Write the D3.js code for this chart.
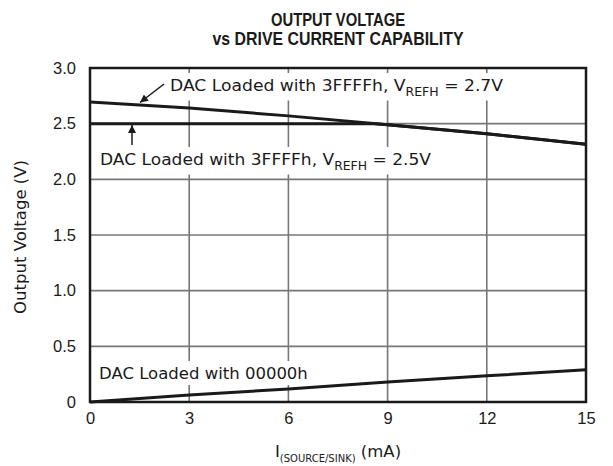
<!DOCTYPE html>
<html>
<head>
<meta charset="utf-8">
<script src="https://cdn.jsdelivr.net/npm/d3@7"></script>
<style>
  html, body { margin: 0; padding: 0; background: #fff; }
  svg { display: block; font-family: "DejaVu Sans", "Liberation Sans", Arial, sans-serif; }
</style>
</head>
<body>
<svg id="chart" width="613" height="466"></svg>
<script>
// Drive current (mA) and output voltage (V) for the three DAC codes
const currentMA = [0, 3, 6, 9, 12, 15];
const voutRef27 = [2.695, 2.64, 2.57, 2.49, 2.41, 2.315];
const currentRef25 = [0, 3, 6, 8.6, 9, 12, 15];
const voutRef25 = [2.5, 2.5, 2.5, 2.5, 2.49, 2.41, 2.315];
const voutZero = [0, 0.063, 0.117, 0.18, 0.235, 0.29];

const xTicks = [0, 3, 6, 9, 12, 15];
const yTicks = [0, 0.5, 1.0, 1.5, 2.0, 2.5, 3.0];
const yTickLabels = ["0", "0.5", "1.0", "1.5", "2.0", "2.5", "3.0"];

const titleLines = ["OUTPUT VOLTAGE", "vs DRIVE CURRENT CAPABILITY"];

const svg = d3.select("#chart");
const plotL = 90, plotR = 586, plotT = 68, plotB = 402;

const x = d3.scaleLinear().domain([0, 15]).range([plotL, plotR]);
const y = d3.scaleLinear().domain([0, 3]).range([plotB, plotT]);

const ink = "#1a1a1a";
const gridColor = "#777";
const fs = 16.5;

// Title (condensed bold)
svg.append("text").attr("x", (plotL + plotR) / 2).attr("y", 26)
  .attr("text-anchor", "middle").attr("font-weight", "bold").attr("font-size", 17.5)
  .attr("font-family", "Liberation Sans, Arial, sans-serif")
  .attr("fill", ink).attr("textLength", 134).attr("lengthAdjust", "spacingAndGlyphs")
  .text(titleLines[0]);
svg.append("text").attr("x", (plotL + plotR) / 2).attr("y", 44.5)
  .attr("text-anchor", "middle").attr("font-weight", "bold").attr("font-size", 17.5)
  .attr("font-family", "Liberation Sans, Arial, sans-serif")
  .attr("fill", ink).attr("textLength", 251).attr("lengthAdjust", "spacingAndGlyphs")
  .text(titleLines[1]);

// Grid
const grid = svg.append("g");
grid.selectAll("line.v").data(xTicks.slice(1, -1)).join("line")
  .attr("x1", d => x(d)).attr("x2", d => x(d)).attr("y1", plotT).attr("y2", plotB)
  .attr("stroke", gridColor).attr("stroke-width", 1.6);
grid.selectAll("line.h").data(yTicks.slice(1, -1)).join("line")
  .attr("x1", plotL).attr("x2", plotR).attr("y1", d => y(d)).attr("y2", d => y(d))
  .attr("stroke", gridColor).attr("stroke-width", 1.6);

// Annotation labels, each on a white backing that breaks the grid
const bgLayer = svg.append("g");
const lineLayer = svg.append("g");
const labelLayer = svg.append("g");

function addLabel(lx, ly, main, sub, tail, width) {
  const t = labelLayer.append("text").attr("x", lx).attr("y", ly)
    .attr("font-size", fs).attr("fill", ink);
  t.append("tspan").text(main);
  if (sub) {
    t.append("tspan").attr("font-size", 12).attr("dy", 4.5).text(sub);
    t.append("tspan").attr("dy", -4.5).text(tail);
  }
  if (width) t.attr("textLength", width).attr("lengthAdjust", "spacingAndGlyphs");
  const b = t.node().getBBox();
  bgLayer.append("rect").attr("x", b.x - 3).attr("y", b.y - 3)
    .attr("width", b.width + 6).attr("height", b.height + 5).attr("fill", "#fff");
  return t;
}

addLabel(170, 91, "DAC Loaded with 3FFFFh, V", "REFH", " = 2.7V", 333);
addLabel(100, 165, "DAC Loaded with 3FFFFh, V", "REFH", " = 2.5V", 331);
addLabel(99, 379, "DAC Loaded with 00000h");

// Data lines
const line = d3.line().x(d => x(d[0])).y(d => y(d[1]));
const series = [
  d3.zip(currentMA, voutRef27),
  d3.zip(currentRef25, voutRef25),
  d3.zip(currentMA, voutZero)
];
lineLayer.selectAll("path").data(series).join("path")
  .attr("d", line).attr("fill", "none").attr("stroke", ink)
  .attr("stroke-width", 3).attr("stroke-linejoin", "round");

// Arrows pointing at curves
svg.append("defs").append("marker").attr("id", "head")
  .attr("viewBox", "0 0 10 10").attr("refX", 10).attr("refY", 5)
  .attr("markerWidth", 10).attr("markerHeight", 8).attr("markerUnits", "userSpaceOnUse")
  .attr("orient", "auto")
  .append("path").attr("d", "M0,0 L10,5 L0,10 Z").attr("fill", ink);

svg.append("line").attr("x1", 164).attr("y1", 84).attr("x2", 140).attr("y2", 102.5)
  .attr("stroke", ink).attr("stroke-width", 1.5).attr("marker-end", "url(#head)");
svg.append("line").attr("x1", 132).attr("y1", 145).attr("x2", 132).attr("y2", 125)
  .attr("stroke", ink).attr("stroke-width", 1.5).attr("marker-end", "url(#head)");

// Frame
svg.append("rect").attr("x", plotL).attr("y", plotT)
  .attr("width", plotR - plotL).attr("height", plotB - plotT)
  .attr("fill", "none").attr("stroke", ink).attr("stroke-width", 2.5);

// Axes (labels only)
const xAxis = d3.axisBottom(x).tickValues(xTicks).tickSize(0).tickPadding(10).tickFormat(d3.format("d"));
const gx = svg.append("g").attr("transform", `translate(0,${plotB})`).call(xAxis);
gx.select(".domain").remove();
gx.selectAll("text").attr("font-size", fs).attr("fill", ink).attr("font-family", null);

const yAxis = d3.axisLeft(y).tickValues(yTicks).tickSize(0).tickPadding(14)
  .tickFormat((d, i) => yTickLabels[i]);
const gy = svg.append("g").attr("transform", `translate(${plotL},0)`).call(yAxis);
gy.select(".domain").remove();
gy.selectAll("text").attr("font-size", fs).attr("fill", ink).attr("font-family", null);

// Axis titles
const xt = svg.append("text").attr("x", (plotL + plotR) / 2).attr("y", 457)
  .attr("text-anchor", "middle").attr("font-size", fs).attr("fill", ink);
xt.append("tspan").text("I");
xt.append("tspan").attr("font-size", 10).attr("dy", 4.5).text("(SOURCE/SINK)");
xt.append("tspan").attr("dy", -4.5).text(" (mA)");

svg.append("text").attr("transform", `translate(26,${(plotT + plotB) / 2 + 2}) rotate(-90)`)
  .attr("text-anchor", "middle").attr("font-size", fs).attr("fill", ink)
  .text("Output Voltage (V)");
</script>
</body>
</html>
